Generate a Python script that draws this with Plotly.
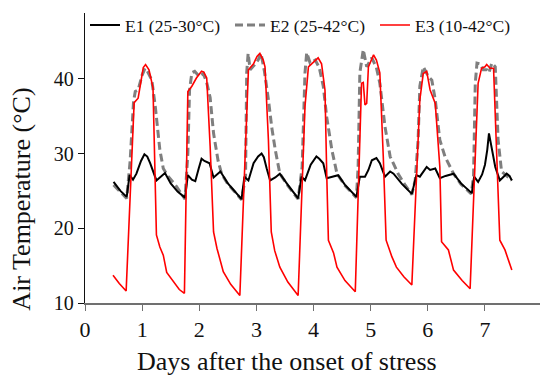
import plotly.graph_objects as go

# ---- data ----
e1_x = [0.50, 0.62, 0.73, 0.78, 0.84, 0.90, 0.98, 1.04, 1.09, 1.14, 1.25, 1.33, 1.40, 1.50, 1.62, 1.75,
        1.80, 1.87, 1.93, 1.99, 2.04, 2.09, 2.13, 2.18, 2.25, 2.32, 2.37, 2.50, 2.62, 2.74,
        2.79, 2.86, 2.95, 3.03, 3.09, 3.13, 3.18, 3.24, 3.33, 3.41, 3.55, 3.65, 3.73,
        3.79, 3.85, 3.95, 4.05, 4.10, 4.17, 4.23, 4.33, 4.43, 4.55, 4.65, 4.75,
        4.81, 4.90, 4.96, 5.02, 5.10, 5.16, 5.25, 5.34, 5.40, 5.55, 5.72,
        5.80, 5.86, 5.92, 5.98, 6.04, 6.13, 6.21, 6.31, 6.45, 6.58, 6.77,
        6.81, 6.88, 6.95, 7.00, 7.04, 7.07, 7.10, 7.13, 7.18, 7.26, 7.32, 7.38, 7.43, 7.47]
e1_y = [26.2, 25.0, 24.2, 27.1, 26.5, 27.3, 29.0, 29.9, 29.6, 28.7, 26.4, 26.9, 27.4, 26.0, 24.9, 24.1,
        27.1, 26.5, 26.3, 28.0, 29.3, 29.0, 28.9, 28.7, 26.8, 27.2, 27.6, 26.0, 25.0, 23.9,
        26.9, 26.4, 28.7, 29.6, 30.0, 29.5, 28.0, 26.4, 26.8, 27.3, 25.8, 24.8, 24.0,
        26.9, 26.4, 28.5, 29.6, 29.3, 28.7, 26.7, 26.9, 27.1, 25.8, 25.0, 24.2,
        26.9, 26.9, 27.8, 29.1, 29.4, 28.7, 26.9, 27.6, 27.3, 25.9, 24.6,
        27.1, 26.9, 27.6, 28.2, 27.8, 28.0, 26.7, 27.0, 27.3, 26.0, 24.7,
        26.9, 26.2, 27.2, 28.5, 30.5, 32.7, 31.5, 30.3, 28.2, 26.4, 26.9, 27.3, 27.0, 26.4]

e2_x = [0.50, 0.60, 0.73, 0.79, 0.85, 0.88, 0.93, 1.00, 1.05, 1.08, 1.17, 1.23, 1.31, 1.37,
        1.45, 1.60, 1.75, 1.80, 1.83, 1.87, 1.92, 2.00, 2.07, 2.13, 2.19, 2.25, 2.33, 2.39,
        2.50, 2.62, 2.74, 2.81, 2.83, 2.855, 2.89, 2.97, 3.03, 3.08, 3.14, 3.21, 3.27, 3.33, 3.41,
        3.55, 3.65, 3.73, 3.80, 3.85, 3.88, 3.94, 4.03, 4.10, 4.17, 4.23, 4.32, 4.41,
        4.55, 4.65, 4.75, 4.78, 4.81, 4.87, 4.93, 5.02, 5.10, 5.16, 5.25, 5.34, 5.40, 5.48,
        5.60, 5.72, 5.78, 5.83, 5.86, 5.92, 6.01, 6.07, 6.13, 6.21, 6.30, 6.45,
        6.58, 6.76, 6.80, 6.83, 6.86, 6.92, 6.97, 7.03, 7.07, 7.12, 7.18, 7.20, 7.23, 7.29, 7.38, 7.47]
e2_y = [25.8, 25.0, 24.0, 29.0, 37.0, 38.3, 38.5, 40.5, 41.4, 41.2, 39.8, 36.3, 30.5, 28.0,
        27.0, 25.6, 23.9, 30.0, 38.5, 40.8, 41.0, 40.3, 40.7, 39.5, 37.5, 32.7, 29.0, 27.3,
        25.9, 24.9, 23.8, 27.0, 40.8, 43.4, 41.2, 41.9, 42.5, 43.4, 41.0, 37.2, 33.4, 30.5, 27.3,
        25.7, 24.7, 23.9, 28.2, 40.8, 43.5, 42.1, 42.5, 41.5, 39.0, 34.9, 30.5, 27.3,
        25.7, 24.9, 24.1, 28.2, 40.8, 43.9, 41.6, 42.8, 41.5, 39.4, 33.6, 29.6, 28.7, 27.3,
        25.8, 24.5, 26.5, 31.8, 39.0, 41.6, 40.3, 39.8, 37.2, 31.8, 29.6, 27.3,
        25.9, 24.6, 27.0, 39.4, 42.1, 42.0, 41.2, 41.2, 40.8, 42.1, 41.6, 38.5, 31.8, 27.6, 27.0, 26.4]

e3_x = [0.49, 0.60, 0.72, 0.86, 0.93, 0.97, 1.02, 1.06, 1.12, 1.19, 1.22, 1.25, 1.31, 1.37, 1.43, 1.55, 1.65, 1.74,
        1.80, 1.87, 1.95, 2.04, 2.08, 2.13, 2.19, 2.25, 2.31, 2.42, 2.55, 2.71,
        2.86, 2.95, 3.01, 3.06, 3.12, 3.15, 3.21, 3.26, 3.32, 3.41, 3.55, 3.73,
        3.85, 3.91, 4.00, 4.08, 4.14, 4.20, 4.23, 4.26, 4.35, 4.41, 4.55, 4.73,
        4.84, 4.87, 4.90, 4.93, 4.96, 5.05, 5.10, 5.16, 5.22, 5.27, 5.37, 5.45, 5.58, 5.72,
        5.86, 5.92, 5.98, 6.04, 6.13, 6.21, 6.24, 6.36, 6.45, 6.60, 6.74,
        6.88, 6.94, 7.00, 7.03, 7.06, 7.09, 7.15, 7.20, 7.26, 7.35, 7.47]
e3_y = [13.7, 12.6, 11.6, 36.8, 37.4, 39.5, 41.5, 41.9, 41.2, 38.8, 29.8, 19.1, 17.5, 16.4, 14.1, 12.8, 11.8, 11.3,
        38.3, 39.0, 40.1, 41.0, 40.9, 40.1, 31.0, 19.5, 17.3, 14.2, 12.5, 11.0,
        41.2, 42.0, 43.0, 43.4, 42.5, 41.6, 31.8, 19.5, 17.0, 14.8, 12.8, 11.0,
        36.3, 41.6, 42.3, 42.8, 42.0, 38.5, 27.4, 18.4, 16.7, 14.8, 13.0, 11.5,
        39.4, 39.5, 36.5, 36.7, 41.6, 43.2, 42.5, 40.8, 29.6, 18.4, 16.2, 14.8, 13.5, 12.4,
        37.2, 40.7, 41.0, 38.5, 36.7, 28.2, 18.2, 17.1, 14.4, 13.0, 11.9,
        39.4, 41.4, 41.6, 41.9, 41.7, 41.4, 41.4, 30.0, 18.4, 17.1, 14.4]

names = ["E1 (25-30°C)", "E2 (25-42°C)", "E3 (10-42°C)"]
x_ticks = [0, 1, 2, 3, 4, 5, 6, 7]
y_ticks = [10, 20, 30, 40]
x_title = "Days after the onset of stress"
y_title = "Air Temperature (°C)"

FONT = "Liberation Serif, Times New Roman, serif"
TXT = "#111111"

fig = go.Figure()
fig.add_trace(go.Scatter(x=e2_x, y=e2_y, mode="lines", name=names[1], legendrank=2,
                         line=dict(color="#7f7f7f", width=3, dash="8px,4px")))
fig.add_trace(go.Scatter(x=e1_x, y=e1_y, mode="lines", name=names[0], legendrank=1,
                         line=dict(color="#000000", width=2)))
fig.add_trace(go.Scatter(x=e3_x, y=e3_y, mode="lines", name=names[2], legendrank=3,
                         line=dict(color="#ff0000", width=1.6)))

fig.update_layout(
    width=541, height=376,
    margin=dict(l=85, r=1, t=13, b=73, autoexpand=False),
    paper_bgcolor="white", plot_bgcolor="white",
    font=dict(family=FONT, color=TXT),
    showlegend=True,
    legend=dict(orientation="h", x=0.0, xanchor="left", y=0.958, yanchor="middle",
                font=dict(family=FONT, size=17.5, color=TXT),
                bgcolor="rgba(0,0,0,0)", entrywidth=100, entrywidthmode="pixels",
                tracegroupgap=0, itemwidth=30),
    xaxis=dict(range=[0, 7.963], tickvals=x_ticks, ticktext=[str(v) for v in x_ticks],
               showgrid=False, zeroline=False, showline=True, linecolor="#707070", linewidth=1.6,
               ticks="outside", ticklen=6, tickcolor="#707070", tickwidth=1.4, automargin=False,
               tickfont=dict(family=FONT, size=22, color=TXT)),
    yaxis=dict(range=[10, 48.8], tickvals=y_ticks, ticktext=[str(v) for v in y_ticks],
               showgrid=False, zeroline=False, showline=True, linecolor="#111111", linewidth=1.4,
               ticks="outside", ticklen=6, tickcolor="#111111", tickwidth=1.2, automargin=False,
               tickfont=dict(family=FONT, size=20, color=TXT)),
    annotations=[
        dict(text=x_title, xref="paper", yref="paper", x=0.444, y=-0.2,
             xanchor="center", yanchor="middle", showarrow=False, borderpad=0,
             font=dict(family=FONT, size=26, color=TXT)),
        dict(text=y_title, xref="paper", yref="paper", x=-0.139, y=0.359,
             xanchor="center", yanchor="middle", showarrow=False, textangle=-90,
             font=dict(family=FONT, size=26, color=TXT)),
    ],
)

fig.write_html("out.html", config={"displayModeBar": False},
               post_script="document.body.style.margin='0';")
